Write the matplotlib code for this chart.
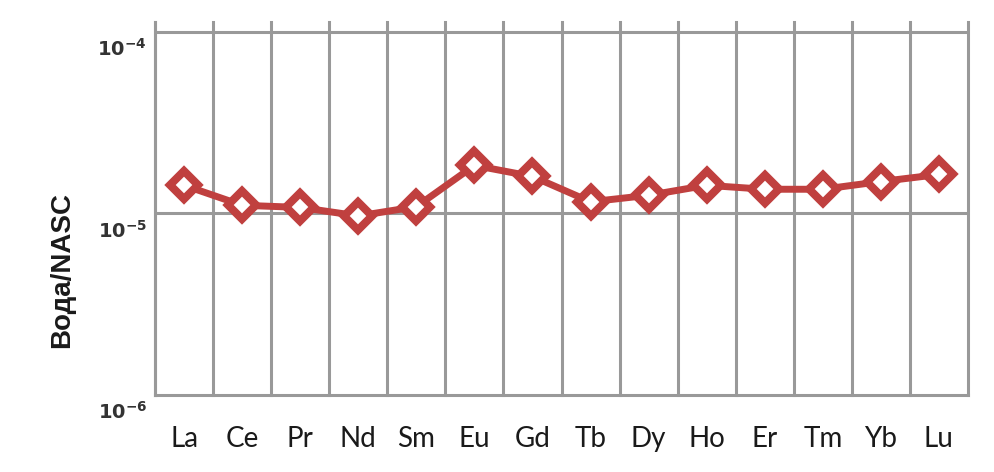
import matplotlib
matplotlib.use("Agg")
import matplotlib.pyplot as plt
import numpy as np

# REE normalised to NASC
elements = ['La', 'Ce', 'Pr', 'Nd', 'Sm', 'Eu', 'Gd', 'Tb', 'Dy', 'Ho', 'Er', 'Tm', 'Yb', 'Lu']
water_nasc = [1.43e-5, 1.11e-5, 1.08e-5, 0.97e-5, 1.09e-5, 1.84e-5, 1.60e-5,
              1.16e-5, 1.26e-5, 1.43e-5, 1.36e-5, 1.36e-5, 1.50e-5, 1.64e-5]
ytick_values = [1e-6, 1e-5, 1e-4]
ytick_labels = [r'$\mathbf{10^{-6}}$', r'$\mathbf{10^{-5}}$', r'$\mathbf{10^{-4}}$']

GRID = '#999999'
RED = '#C0403F'

fig = plt.figure(figsize=(9.94, 4.72), dpi=100)
ax = fig.add_axes([0.156, 0.1631, 0.8178, 0.7903])

x = np.arange(len(elements))
ax.plot(x, water_nasc, color=RED, lw=5, marker='D', ms=14.5,
        mfc='white', mec=RED, mew=5.8, zorder=5)

ax.set_yscale('log')
ax.set_ylim(1e-6, 1.135e-4)
ax.set_xlim(-0.5, len(elements) - 0.5)

# category separators and decade lines
for b in np.arange(len(elements) + 1) - 0.5:
    ax.axvline(b, color=GRID, lw=2.2, zorder=1, clip_on=False)
for v in ytick_values[1:]:
    ax.axhline(v, color=GRID, lw=2.2, zorder=1)

for side in ['top', 'right']:
    ax.spines[side].set_visible(False)
for side in ['left', 'bottom']:
    ax.spines[side].set_color(GRID)
    ax.spines[side].set_linewidth(2.2)

ax.set_xticks(x)
ax.set_xticklabels(elements, fontsize=20, family='Lato', color='#1a1a1a')
ax.tick_params(axis='x', length=0, pad=22)

ax.set_yticks([])
ax.minorticks_off()
ax.tick_params(axis='y', which='both', length=0, labelleft=False)
for v, lab in zip(ytick_values, ytick_labels):
    ax.annotate(lab, xy=(0, v), xycoords=('axes fraction', 'data'),
                xytext=(-8, -17), textcoords='offset pixels',
                ha='right', va='center', fontsize=14, color='#333333')

fig.text(62 / 994, 1 - 270 / 472, 'Вода/NASC', rotation=90, ha='center',
         va='center', fontsize=20, fontweight='bold', family='Liberation Sans',
         color='#1a1a1a')

fig.savefig('out.png', dpi=100, facecolor='white')
